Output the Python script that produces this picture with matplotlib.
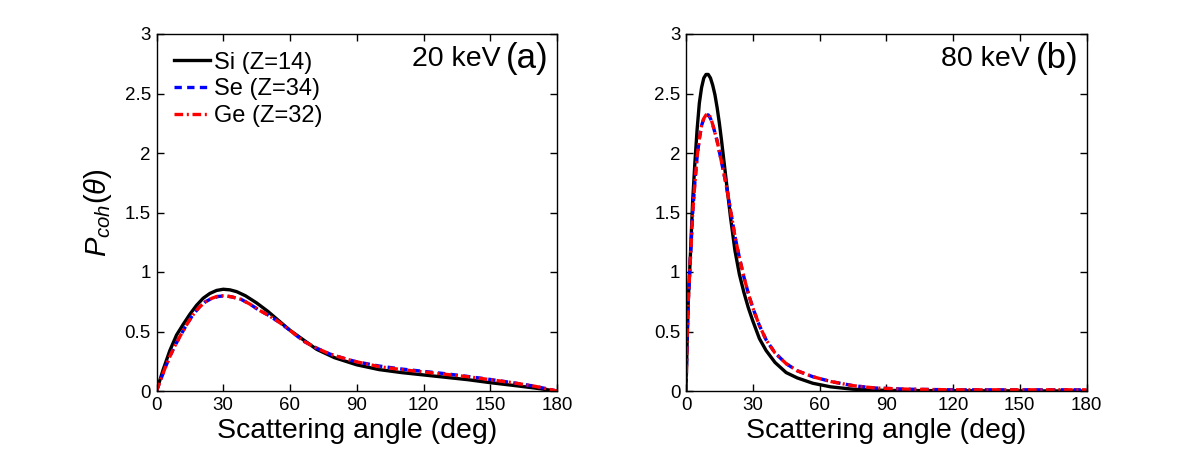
import matplotlib
matplotlib.use("Agg")
import matplotlib.pyplot as plt

plt.rcParams['font.family'] = ['Liberation Sans', 'DejaVu Sans']
plt.rcParams['mathtext.fontset'] = 'custom'
plt.rcParams['mathtext.rm'] = 'Liberation Sans'
plt.rcParams['mathtext.it'] = 'Liberation Sans:italic'

labels = ['Si (Z=14)', 'Se (Z=34)', 'Ge (Z=32)']

# ---- 20 keV panel (a) ----
a_si_x = [0, 3, 6, 9, 12, 15, 18, 21, 24, 27, 30, 33, 36, 40, 45, 50, 55, 60, 66, 72, 80, 90, 100, 110, 120, 130, 140, 150, 160, 170, 175, 180]
a_si_y = [0, 0.18, 0.34, 0.47, 0.56, 0.645, 0.72, 0.78, 0.82, 0.845, 0.855, 0.85, 0.835, 0.80, 0.74, 0.67, 0.59, 0.51, 0.43, 0.35, 0.28, 0.22, 0.18, 0.155, 0.135, 0.115, 0.095, 0.07, 0.048, 0.025, 0.012, 0]
a_se_x = [0, 2, 4, 6, 8, 10, 13, 16, 19, 22, 25, 28, 31, 34, 38, 42, 46, 50, 55, 60, 66, 72, 78, 85, 90, 100, 110, 120, 130, 140, 150, 160, 170, 180]
a_se_y = [0, 0.10, 0.20, 0.29, 0.37, 0.44, 0.54, 0.63, 0.70, 0.75, 0.78, 0.795, 0.80, 0.79, 0.77, 0.73, 0.68, 0.64, 0.58, 0.51, 0.42, 0.36, 0.31, 0.27, 0.245, 0.21, 0.185, 0.165, 0.145, 0.122, 0.097, 0.07, 0.04, 0]
a_ge_x = [0, 2, 4, 6, 8, 10, 13, 16, 19, 22, 25, 28, 31, 34, 38, 42, 46, 50, 55, 60, 66, 72, 78, 85, 90, 100, 110, 120, 130, 140, 150, 160, 170, 180]
a_ge_y = [0, 0.10, 0.20, 0.29, 0.37, 0.44, 0.54, 0.63, 0.70, 0.75, 0.78, 0.80, 0.80, 0.79, 0.77, 0.73, 0.68, 0.64, 0.58, 0.51, 0.42, 0.36, 0.31, 0.27, 0.245, 0.205, 0.18, 0.16, 0.14, 0.12, 0.095, 0.07, 0.04, 0]

# ---- 80 keV panel (b) ----
b_si_x = [0, 0.5, 1, 2, 3, 4, 5, 6, 7, 8, 9, 10, 11, 12, 13, 14, 15, 16, 18, 20, 22, 24, 26, 28, 30, 33, 36, 40, 45, 50, 57, 65, 75, 90, 120, 180]
b_si_y = [0, 0.40, 0.75, 1.15, 1.60, 1.92, 2.20, 2.42, 2.55, 2.63, 2.66, 2.66, 2.63, 2.57, 2.49, 2.38, 2.25, 2.10, 1.78, 1.46, 1.18, 0.98, 0.83, 0.70, 0.59, 0.44, 0.34, 0.24, 0.155, 0.11, 0.065, 0.035, 0.015, 0.005, 0.002, 0]
b_se_x = [0, 0.5, 1, 2, 3, 4, 5, 6, 7, 8, 9, 10, 11, 12, 14, 16, 18, 20, 22, 24, 26, 28, 30, 33, 36, 40, 45, 50, 57, 65, 75, 85, 100, 120, 180]
b_se_y = [0, 0.45, 0.75, 1.12, 1.50, 1.76, 1.97, 2.12, 2.23, 2.29, 2.32, 2.32, 2.29, 2.24, 2.10, 1.92, 1.74, 1.52, 1.30, 1.12, 0.96, 0.82, 0.70, 0.55, 0.43, 0.32, 0.23, 0.17, 0.12, 0.08, 0.045, 0.025, 0.015, 0.01, 0.01]
b_ge_x = [0, 0.5, 1, 2, 3, 4, 5, 6, 7, 8, 9, 10, 11, 12, 14, 16, 18, 20, 22, 24, 26, 28, 30, 33, 36, 40, 45, 50, 57, 65, 75, 85, 100, 120, 180]
b_ge_y = [0, 0.45, 0.75, 1.12, 1.50, 1.75, 1.97, 2.12, 2.23, 2.29, 2.32, 2.33, 2.30, 2.24, 2.10, 1.92, 1.74, 1.52, 1.30, 1.12, 0.96, 0.82, 0.70, 0.55, 0.43, 0.32, 0.23, 0.17, 0.12, 0.08, 0.045, 0.025, 0.015, 0.01, 0.01]

energies = ['20 keV', '80 keV']
panel_tags = ['(a)', '(b)']
xticks = [0, 30, 60, 90, 120, 150, 180]
yticks = [0, 0.5, 1, 1.5, 2, 2.5, 3]
ytick_labels = ['0', '0.5', '1', '1.5', '2', '2.5', '3']

fig = plt.figure(figsize=(12.01, 4.5), dpi=100)
W, H = 1201, 450
ax1 = fig.add_axes([156.5 / W, (H - 391) / H, 400.5 / W, 357 / H])
ax2 = fig.add_axes([686 / W, (H - 391) / H, 400.5 / W, 357 / H])

panels = [
    (ax1, (a_si_x, a_si_y), (a_se_x, a_se_y), (a_ge_x, a_ge_y)),
    (ax2, (b_si_x, b_si_y), (b_se_x, b_se_y), (b_ge_x, b_ge_y)),
]

for i, (ax, si, se, ge) in enumerate(panels):
    ax.plot(si[0], si[1], color='black', lw=2.4, solid_joinstyle='round', label=labels[0])
    ax.plot(se[0], se[1], color='blue', lw=2.4, dashes=(2.2, 1.6), label=labels[1])
    ax.plot(ge[0], ge[1], color='red', lw=2.4, dashes=(2.6, 1.1, 0.6, 1.1), label=labels[2])
    ax.set_xlim(0, 180)
    ax.set_ylim(0, 3)
    ax.set_xticks(xticks)
    ax.set_yticks(yticks)
    ax.set_yticklabels(ytick_labels)
    ax.tick_params(direction='in', top=True, right=True, length=5, width=1, labelsize=13.5, pad=4)
    for s in ax.spines.values():
        s.set_linewidth(1)
    ax.set_xlabel('Scattering angle (deg)', fontsize=20.5, labelpad=3)
    ax.text(0.858, 0.93, energies[i], transform=ax.transAxes, ha='right', va='center', fontsize=20.5)
    ax.text(0.98, 0.93, panel_tags[i], transform=ax.transAxes, ha='right', va='center', fontsize=25)

ax1.set_ylabel(r'$P_{coh}(\theta)$', fontsize=21, labelpad=8)
leg = ax1.legend(loc='upper left', frameon=False, fontsize=17, handlelength=1.5,
                 handletextpad=0.2, labelspacing=0.2, borderaxespad=0.35, borderpad=0.4,
                 bbox_to_anchor=(0.0, 1.0))

fig.savefig('out.png', dpi=100)
